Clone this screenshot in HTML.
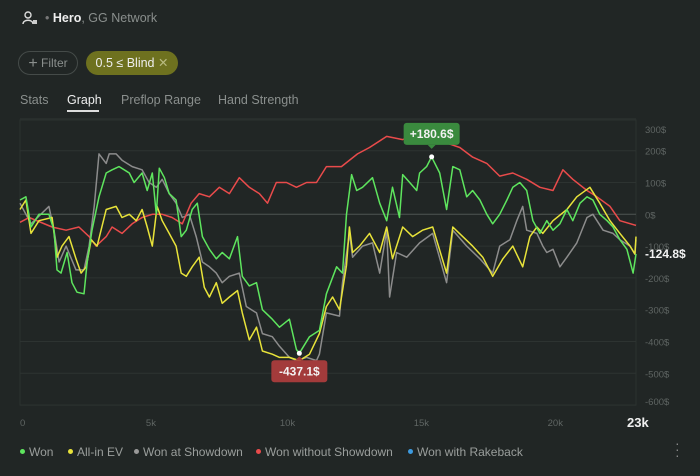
<!DOCTYPE html>
<html><head><meta charset="utf-8">
<style>
html,body{margin:0;padding:0;background:#212625;}
body{width:700px;height:476px;overflow:hidden;position:relative;font-family:"Liberation Sans",sans-serif;}
.abs{position:absolute;}
.tab{position:absolute;top:93px;font-size:12.5px;color:#8a8f8d;}
.leg{position:absolute;top:445px;font-size:12px;color:#9a9e9c;white-space:nowrap;}
.dot{display:inline-block;width:5px;height:5px;border-radius:50%;margin-right:4px;vertical-align:2px;}
</style></head><body>
<div class="abs" style="left:22px;top:10px;">
<svg width="16" height="16" viewBox="0 0 16 16"><circle cx="6" cy="5" r="3" fill="none" stroke="#ddd" stroke-width="1.4"/><path d="M1 14 C1 9 11 9 11 14" fill="none" stroke="#ddd" stroke-width="1.4"/><rect x="11" y="10" width="4" height="4" fill="#ccc"/></svg></div>
<div class="abs" style="left:45px;top:11px;font-size:12.5px;color:#8a8f8d;"><span style="color:#777">•</span> <b style="color:#eee;font-weight:bold">Hero</b>, GG Network</div>
<div class="abs" style="left:18px;top:51px;width:58px;height:22px;border:1px solid #454b49;border-radius:12px;color:#8a8f8d;font-size:12px;line-height:22px;text-align:center;"><span style="font-size:16px;vertical-align:-1px">+</span> Filter</div>
<div class="abs" style="left:86px;top:51px;width:92px;height:24px;background:#6e711f;border-radius:12px;color:#eee;font-size:12.5px;line-height:24px;text-align:center;">0.5 ≤ Blind <span style="color:#b9bb80">✕</span></div>
<div class="tab" style="left:20px;">Stats</div>
<div class="tab" style="left:67px;color:#eee;">Graph</div>
<div class="abs" style="left:67px;top:110px;width:32px;height:2px;background:#ddd;"></div>
<div class="tab" style="left:121px;">Preflop Range</div>
<div class="tab" style="left:218px;">Hand Strength</div>

<svg id="chart" class="abs" style="left:0;top:0" width="700" height="476"></svg>

<div class="leg" style="left:20px;"><span class="dot" style="background:#5ee55e"></span>Won</div>
<div class="leg" style="left:68px;"><span class="dot" style="background:#e8e33a"></span>All-in EV</div>
<div class="leg" style="left:134px;"><span class="dot" style="background:#999"></span>Won at Showdown</div>
<div class="leg" style="left:256px;"><span class="dot" style="background:#e94b4b"></span>Won without Showdown</div>
<div class="leg" style="left:408px;"><span class="dot" style="background:#3d9be0"></span>Won with Rakeback</div>
<div class="abs" style="left:675px;top:440px;color:#888;font-size:14px;line-height:6px;">·<br>·<br>·</div>

<script>
const yTicks=[300,200,100,0,-100,-200,-300,-400,-500,-600];
const xTicks=[0,5,10,15,20];
const xTickLabels=["0","5k","10k","15k","20k"];
const totalHands=23;
const wonHands=[0,0.22,0.41,0.71,1.08,1.27,1.38,1.53,1.76,1.94,2.13,2.39,2.51,2.69,2.95,3.22,3.44,3.7,4.08,4.26,4.56,4.75,4.94,5.09,5.2,5.39,5.57,5.83,6.02,6.21,6.43,6.62,6.81,7.07,7.33,7.55,7.82,8.12,8.3,8.56,8.83,9.05,9.42,9.69,10.06,10.32,10.43,10.81,11.18,11.44,11.82,12.04,12.19,12.38,12.57,12.79,13.16,13.43,13.69,13.91,14.17,14.29,14.55,14.81,14.92,15.18,15.37,15.67,15.93,16.16,16.42,16.68,16.9,17.17,17.43,17.65,17.91,18.18,18.4,18.66,18.92,19.15,19.41,19.67,19.9,20.16,20.42,20.64,20.91,21.17,21.39,21.65,21.92,22.14,22.4,22.66,22.89,23];
const wonValues=[45,55,-40,0,0,-50,-175,-185,-120,-215,-245,-250,-150,-50,55,130,140,150,130,100,130,75,130,0,145,115,65,45,-70,-50,15,35,-70,-110,-140,-120,-140,-70,-195,-225,-215,-300,-330,-355,-330,-425,-437.1,-385,-365,-250,-165,-185,0,125,75,85,115,35,-20,85,-10,125,100,75,130,150,180.6,130,15,150,140,55,75,45,0,-30,0,45,85,100,75,-20,-60,-20,-50,-30,15,-20,35,55,45,0,-20,-40,-80,-110,-185,-124.8];
const evHands=[0,0.22,0.41,0.71,1.2,1.38,1.57,1.83,2.09,2.28,2.47,2.66,2.88,3.22,3.59,3.81,4.08,4.34,4.56,4.75,4.94,5.12,5.31,5.57,5.83,6.02,6.21,6.43,6.69,6.88,7.07,7.33,7.55,7.82,8.12,8.3,8.56,8.83,9.05,9.42,9.69,10.06,10.43,10.81,11.18,11.44,11.67,11.93,12.19,12.3,12.42,12.68,13.05,13.43,13.69,13.91,14.29,14.66,15.03,15.41,15.93,16.16,16.53,16.9,17.28,17.65,18.03,18.4,18.77,19.04,19.3,19.52,19.9,20.42,20.79,21.28,21.65,22.03,22.4,22.78,22.96,23];
const evValues=[15,45,-60,-20,-10,-135,-100,-70,-140,-185,-165,-80,-100,15,25,-10,0,-20,15,-40,-100,25,-20,-60,-100,-185,-195,-165,-135,-230,-260,-215,-280,-260,-240,-310,-395,-355,-430,-440,-450,-450,-460,-440,-375,-290,-260,-300,-160,-40,-120,-100,-60,-120,-40,-140,-40,-70,-50,-40,-185,-40,-70,-100,-135,-195,-140,-100,-165,-70,-40,-60,-20,15,55,85,35,-20,-60,-100,-125,-70];
const sdHands=[0,0.41,1.08,1.27,1.46,1.72,2.09,2.39,2.58,2.77,2.95,3.22,3.33,3.59,3.81,4.19,4.56,4.82,5.09,5.31,5.57,5.83,6.06,6.32,6.58,6.81,7.07,7.33,7.55,7.82,8.19,8.45,8.83,9.05,9.42,9.69,10.06,10.32,10.7,11.07,11.18,11.44,11.93,12.04,12.3,12.42,12.79,13.16,13.43,13.69,13.8,14.06,14.44,14.92,15.41,15.93,16.16,16.68,17.17,17.65,17.91,18.29,18.55,18.77,18.92,19.3,19.52,19.67,19.9,20.16,20.42,20.79,21.17,21.39,21.77,22.14,22.4,22.78,22.96,23];
const sdValues=[35,-30,25,-50,-150,-100,-175,-175,-100,25,190,160,190,190,170,150,140,100,85,110,65,35,-10,0,-70,-150,-165,-185,-215,-195,-185,-290,-310,-375,-385,-415,-450,-460,-450,-460,-440,-310,-320,-215,-60,-135,-100,-90,-185,-50,-260,-120,-135,-90,-60,-215,-50,-100,-140,-185,-100,-80,-20,25,-50,-60,-100,-120,-110,-165,-135,-90,-10,0,-50,-60,-80,-100,-125,-80];
const nsdHands=[0,0.34,1.2,1.72,2.2,2.58,2.84,3.22,3.44,3.81,4.19,4.56,4.94,5.31,5.68,6.06,6.39,6.69,7.07,7.44,7.82,8.19,8.56,8.94,9.24,9.57,9.95,10.32,10.7,11.07,11.44,12.0,12.6,13.05,13.69,14.29,14.92,15.56,16.42,16.9,17.43,17.91,18.4,18.92,19.41,19.9,20.27,20.64,21.17,21.54,22.03,22.4,23];
const nsdValues=[-25,-10,-40,-50,-40,-70,-100,-70,-40,-60,-30,-10,0,0,-10,-30,35,65,55,85,65,115,85,65,35,100,100,85,100,100,150,150,190,210,245,235,255,235,210,180,160,120,130,110,85,75,140,110,75,55,25,-20,-35];

const L=20,R=636,T=120,B=405;
function xS(k){return L+k/totalHands*(R-L);}
function yS(v){return 214.3-v*0.318;}
const NS="http://www.w3.org/2000/svg";
const svg=document.getElementById('chart');
function mk(tag,attrs){const e=document.createElementNS(NS,tag);for(const k in attrs)e.setAttribute(k,attrs[k]);svg.appendChild(e);return e;}

const frame=mk('rect',{x:L,y:T,width:R-L,height:B-T,fill:'none',stroke:'#2c3230','stroke-width':1});


yTicks.forEach(v=>{
  const g=mk('line',{x1:L,x2:R,y1:yS(v),y2:yS(v),stroke:v===0?'#4f5553':'#2d3331','stroke-width':1});
  
  
  const ly=Math.max(yS(v)+4,133);
  const t=mk('text',{x:645,y:Math.min(ly,405),fill:'#5f6563','font-size':9.5});
  t.textContent=v+'$';
  
  
});
xTicks.forEach((k,i)=>{
  const t=mk('text',{x:xS(k)+(i===0?0:-8),y:426,fill:'#5f6563','font-size':9.5});
  t.textContent=xTickLabels[i];
  
  
});
const endT=mk('text',{x:627,y:427,fill:'#f0f0f0','font-size':13,'font-weight':'bold'});
endT.textContent='23k';



function line(h,v,color,name){
  const d=h.map((k,i)=>(i?'L':'M')+xS(k).toFixed(1)+' '+yS(v[i]).toFixed(1)).join(' ');
  const p=mk('path',{d:d,fill:'none',stroke:color,'stroke-width':1.5,'stroke-linejoin':'round'});
  
  
}
line(sdHands,sdValues,'#8c8c8c','won-at-showdown-line');
line(nsdHands,nsdValues,'#e94b4b','won-without-showdown-line');
line(evHands,evValues,'#e8e33a','all-in-ev-line');
line(wonHands,wonValues,'#5ee55e','won-line');

// max / min tooltips
let mi=0,ma=0;wonValues.forEach((v,i)=>{if(v<wonValues[mi])mi=i;if(v>wonValues[ma])ma=i;});
function tip(i,color,up,name){
  const x=xS(wonHands[i]),y=yS(wonValues[i]);
  const w=56,h=22,by=up?y-34:y+7;
  const r=mk('rect',{x:x-w/2,y:by,width:w,height:h,rx:3,fill:color});
  
  
  const a=mk('path',{d:up?`M${x-4} ${by+h} L${x+4} ${by+h} L${x} ${by+h+4} Z`:`M${x-4} ${by} L${x+4} ${by} L${x} ${by-4} Z`,fill:color});
  
  
  const t=mk('text',{x:x,y:by+15,fill:'#f2f2f2','font-size':12,'font-weight':'bold','text-anchor':'middle'});
  t.textContent=(wonValues[i]>0?'+':'')+wonValues[i].toFixed(1)+'$';
  
  
  const c=mk('circle',{cx:x,cy:y,r:2.5,fill:'#fff'});
  
  
}
tip(ma,'#3a8a3e',true,'max-tooltip');
tip(mi,'#a33b3b',false,'min-tooltip');
const last=wonValues[wonValues.length-1];
const lt=mk('text',{x:645,y:yS(last)+4,fill:'#f2f2f2','font-size':12,'font-weight':'bold'});
lt.textContent=last.toFixed(1)+'$';


</script>
</body></html>
